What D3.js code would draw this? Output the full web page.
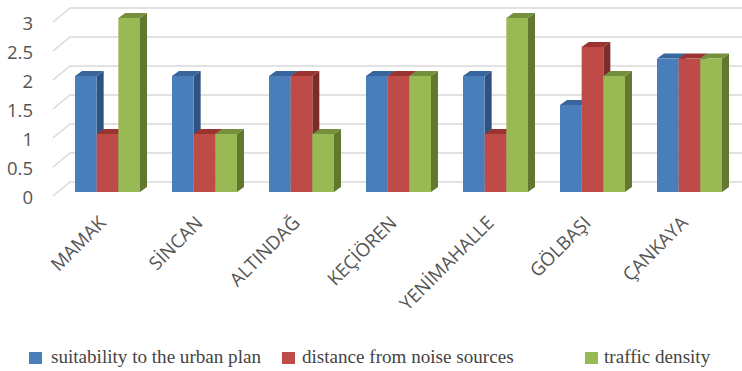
<!DOCTYPE html>
<html>
<head>
<meta charset="utf-8">
<script src="https://cdn.jsdelivr.net/npm/d3@7"></script>
<style>
  html, body { margin: 0; padding: 0; background: #fff; }
  svg { display: block; }
</style>
</head>
<body>
<div id="chart"></div>
<script>
const districts = ["MAMAK", "SİNCAN", "ALTINDAĞ", "KEÇİÖREN", "YENİMAHALLE", "GÖLBAŞI", "ÇANKAYA"];
const suitability = [2, 2, 2, 2, 2, 1.5, 2.3];
const noiseDistance = [1, 1, 2, 2, 1, 2.5, 2.3];
const trafficDensity = [3, 1, 1, 2, 3, 2, 2.3];
const tickValues = [0, 0.5, 1, 1.5, 2, 2.5, 3];
const seriesNames = ["suitability to the urban plan", "distance from noise sources", "traffic density"];
const seriesValues = [suitability, noiseDistance, trafficDensity];

const faceColors = ["#4a7ebb", "#be4b48", "#98b954"];
const sideColors = ["#2f5381", "#7a2d2b", "#62782f"];
const topColors = ["#37659c", "#9a3431", "#74903c"];

const W = 742, H = 371;
const svg = d3.select("#chart").append("svg").attr("width", W).attr("height", H);

const y = d3.scaleLinear().domain([0, 3]).range([192, 18]);
const x0 = d3.scaleBand().domain(districts).range([75, 722]).paddingInner(0.33).paddingOuter(0);
const x1 = d3.scaleBand().domain(d3.range(seriesNames.length)).range([0, x0.bandwidth()]);

// Oblique offsets of the 3D projection
const barDx = 7, barDy = 5;
const wallDx = 17, wallDy = 10, floorDy = 4;
const wallX = 53;

// Back wall gridlines with the diagonal run along the side wall
const grid = svg.append("g").attr("fill", "none").attr("stroke", "#d9d9d9").attr("stroke-width", 1.5);
grid.selectAll("path").data(tickValues).join("path")
  .attr("d", v => {
    const p = d3.path();
    p.moveTo(wallX, y(v) + floorDy);
    p.lineTo(wallX + wallDx, y(v) - wallDy);
    p.lineTo(W, y(v) - wallDy);
    return p.toString();
  });

// Value labels, right aligned against the side wall
svg.append("g").selectAll("text").data(tickValues).join("text")
  .attr("x", 33)
  .attr("y", v => y(v) + 6)
  .attr("dy", "0.35em")
  .attr("text-anchor", "end")
  .attr("font-family", "'Open Sans', sans-serif")
  .attr("font-size", 18.5)
  .attr("fill", "#555")
  .text(d => d);

// Bars are painted left to right so each front face covers its neighbour's side
const groups = svg.append("g").selectAll("g").data(districts).join("g")
  .attr("transform", d => `translate(${x0(d)},0)`);

groups.each(function (district, i) {
  const g = d3.select(this);
  seriesValues.forEach((values, s) => {
    const left = x1(s), right = left + x1.bandwidth();
    const top = y(values[i]), base = y(0);
    const polygon = pts => pts.map(q => q.join(",")).join(" ");
    g.append("polygon").attr("fill", sideColors[s]).attr("points", polygon([
      [right, top], [right + barDx, top - barDy], [right + barDx, base - barDy], [right, base]
    ]));
    g.append("polygon").attr("fill", topColors[s]).attr("points", polygon([
      [left, top], [left + barDx, top - barDy], [right + barDx, top - barDy], [right, top]
    ]));
    g.append("rect").attr("fill", faceColors[s])
      .attr("x", left).attr("y", top)
      .attr("width", x1.bandwidth()).attr("height", base - top);
  });
});

// Rotated district names
svg.append("g").selectAll("text").data(districts).join("text")
  .attr("transform", d => `translate(${x0(d) + 32},${224}) rotate(-45)`)
  .attr("text-anchor", "end")
  .attr("font-family", "'Open Sans', sans-serif")
  .attr("font-size", 18.6)
  .attr("fill", "#555")
  .text(d => d);

// Legend
const legendSwatchX = [29, 282, 585];
const legendTextX = [51, 302, 604];
const legend = svg.append("g");
seriesNames.forEach((name, s) => {
  legend.append("rect")
    .attr("x", legendSwatchX[s]).attr("y", 352)
    .attr("width", 13).attr("height", 12)
    .attr("fill", faceColors[s]);
  legend.append("text")
    .attr("x", legendTextX[s]).attr("y", 363)
    .attr("font-family", "'Liberation Serif', serif")
    .attr("font-size", 19.1)
    .attr("fill", "#444")
    .text(name);
});
</script>
</body>
</html>
